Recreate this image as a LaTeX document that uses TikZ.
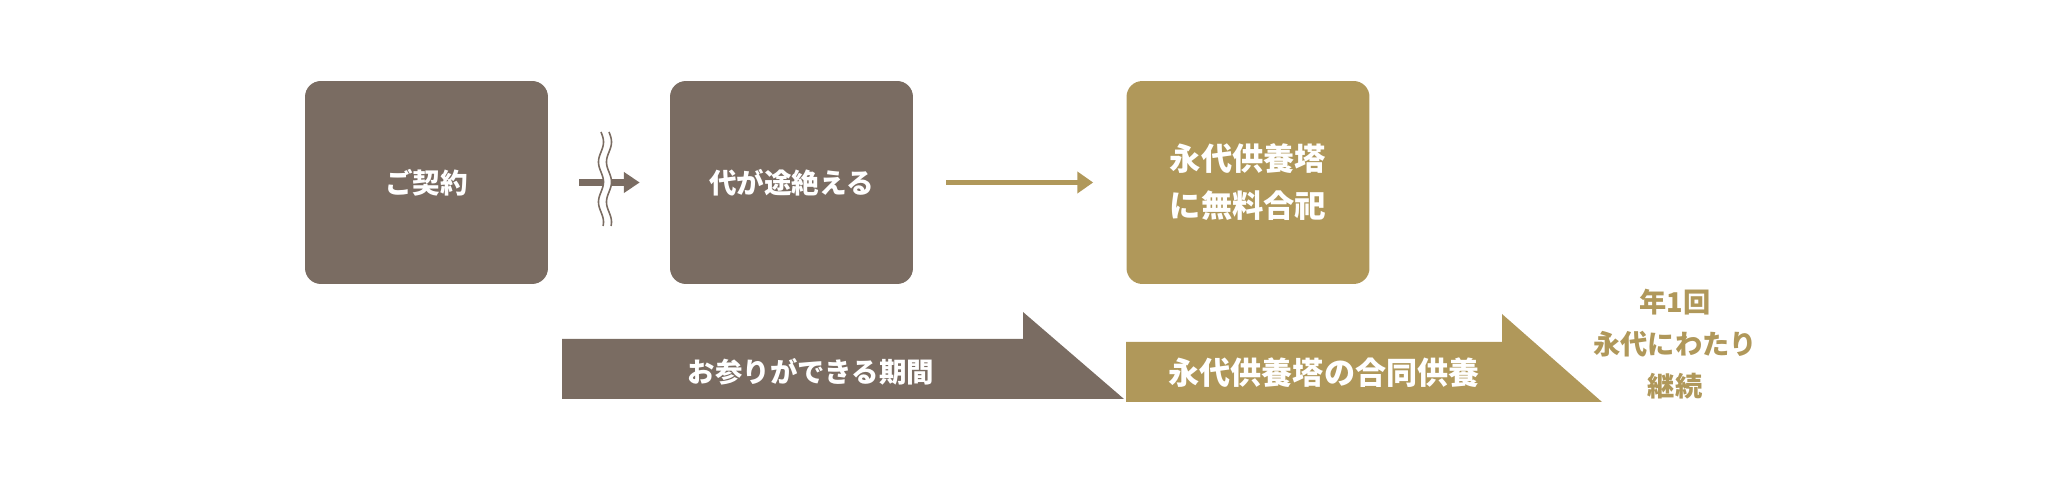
\documentclass[tikz,border=0pt]{standalone}
\usepackage{fontspec}
\setmainfont{Noto Sans CJK JP}
\usetikzlibrary{arrows.meta,calc,positioning}
\definecolor{kbrown}{HTML}{7A6C62}
\definecolor{kgold}{HTML}{B0985A}

\begin{document}
\begin{tikzpicture}[x=.02cm,y=-.02cm,>=Latex,
  box/.style={rounded corners=9pt,minimum width=4.86cm,minimum height=4.06cm,
    text=white,align=center,font=\bfseries\fontsize{15.7}{18}\selectfont},
  band/.style={text=white,font=\bfseries\fontsize{15.6}{18}\selectfont},
  wave/.style={kbrown,line width=.9pt}]
 \useasboundingbox (0,0) rectangle (2060,482);
 \node[box,fill=kbrown] (keiyaku) at (426.5,182.5) {ご契約};
 \node[box,fill=kbrown] (todae) at (791.5,182.5) {代が途絶える};
 \node[box,fill=kgold,font=\bfseries\fontsize{17.8}{26.7}\selectfont] (kuyo) at (1248,182.5)
   {永代供養塔\\に無料合祀};
 \draw[-{Triangle[length=9pt,width=11.4pt]},kbrown,line width=4.3pt,
   shorten <=.62cm,shorten >=.6cm] (keiyaku) -- (todae);
 \fill[white] plot[domain=132:226,samples=80,variable=\t] ({601+2.5*sin(9*(\t-132))},\t)
   -- plot[domain=226:132,samples=80,variable=\t] ({609+2.5*sin(9*(\t-132))},\t) -- cycle;
 \draw[wave] plot[domain=132:226,samples=80,variable=\t] ({601+2.5*sin(9*(\t-132))},\t);
 \draw[wave] plot[domain=132:226,samples=80,variable=\t] ({609+2.5*sin(9*(\t-132))},\t);
 \draw[-{Triangle[length=9pt,width=11.9pt]},kgold,line width=3.4pt,
   shorten <=.66cm,shorten >=.66cm] (todae) -- (kuyo);
 \fill[kbrown] (562,339) -- (1023,339) -- (1023,312) -- (1124,399) -- (562,399) -- cycle;
 \fill[kgold] (1126,342) -- (1502,342) -- (1502,314) -- (1602,402) -- (1126,402) -- cycle;
 \node[band] (kikan) at (811,372) {お参りができる期間};
 \node[band,font=\bfseries\fontsize{17.7}{20}\selectfont] (godo) at (1324,373) {永代供養塔の合同供養};
 \node[text=kgold,align=center,font=\bfseries\fontsize{15.5}{23.9}\selectfont] (keizoku) at (1675,344)
   {年1回\\永代にわたり\\継続};
\end{tikzpicture}
\end{document}
